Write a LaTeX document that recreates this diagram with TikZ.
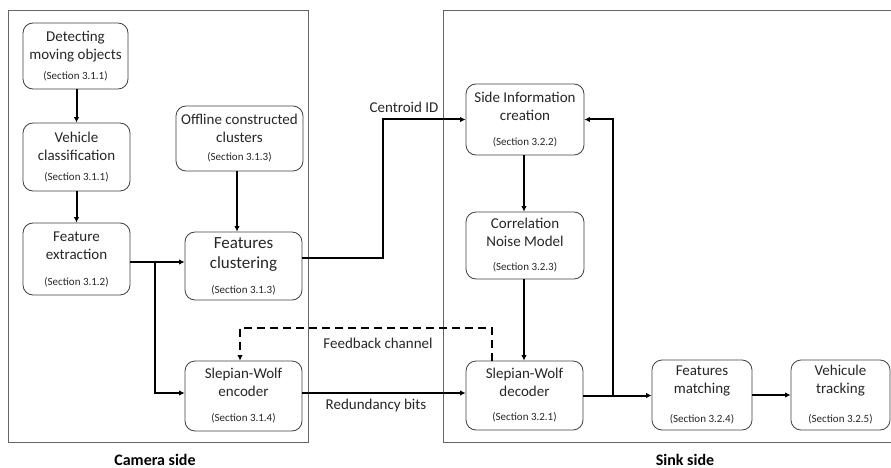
\documentclass[tikz,border=0pt]{standalone}
\usepackage{fontspec}
\setmainfont{Carlito}
\usetikzlibrary{arrows.meta,calc}
\newcommand{\secf}{\fontsize{11}{18}\selectfont}
\begin{document}
\begin{tikzpicture}[x=1pt,y=-1pt,
 box/.style={draw=black!75, line width=0.8pt, rounded corners=10pt, align=center, inner sep=0pt, text=black!85, font=\fontsize{15}{18}\selectfont},
 arr/.style={line width=2pt, -{Latex[length=5.5pt,width=5.5pt]}},
 lab/.style={text=black!85, font=\fontsize{15}{18}\selectfont},
 sidelab/.style={text=black, font=\fontsize{16}{19}\selectfont\bfseries},
 panel/.style={draw=black!60, line width=1pt}]
\useasboundingbox (0,0) rectangle (891,468);
% panels
\draw[panel] (8,11) rectangle (308,442);
\draw[panel] (893,11) -- (443,11) -- (443,442) -- (893,442);
% camera side boxes
\node[box, minimum width=105, minimum height=66] (det) at (75.5,56) {Detecting\\moving objects\\[2pt]\secf (Section 3.1.1)};
\node[box, minimum width=107, minimum height=68] (veh) at (76.5,157) {Vehicle\\classification\\[2pt]\secf (Section 3.1.1)};
\node[box, minimum width=107, minimum height=72] (fext) at (76.5,259) {Feature\\extraction\\[8pt]\secf (Section 3.1.2)};
\node[box, minimum width=127, minimum height=65] (off) at (239.5,138.5) {Offline constructed\\clusters\\[0pt]\secf (Section 3.1.3)};
\node[box, minimum width=117, minimum height=68, font=\fontsize{17}{20}\selectfont] (fclu) at (243.5,266) {Features\\clustering\\[5pt]\secf (Section 3.1.3)};
\node[box, minimum width=117, minimum height=70] (swe) at (243.5,396) {Slepian-Wolf\\encoder\\[7pt]\secf (Section 3.1.4)};
% sink side boxes
\node[box, minimum width=118, minimum height=71] (sinfo) at (525,119.5) {Side Information\\creation\\[7pt]\secf (Section 3.2.2)};
\node[box, minimum width=118, minimum height=67] (corr) at (525,245.5) {Correlation\\Noise Model\\[6pt]\secf (Section 3.2.3)};
\node[box, minimum width=117, minimum height=69] (swd) at (524.5,395.5) {Slepian-Wolf\\decoder\\[6pt]\secf (Section 3.2.1)};
\node[box, minimum width=100, minimum height=70] (fm) at (702,395) {Features\\matching\\[11pt]\secf (Section 3.2.4)};
\node[box, minimum width=99, minimum height=70] (vt) at (840.5,395) {Vehicule\\tracking\\[11pt]\secf (Section 3.2.5)};
% helper coordinates
\coordinate (b1) at (155,0);
\coordinate (b2) at (383,0);
\coordinate (b3) at (613,0);
% camera side arrows
\draw[arr] (det.south -| veh.north) -- (veh.north);
\draw[arr] (veh.south) -- (fext.north);
\draw[arr] (off.south -| 237,0) -- (fclu.north -| 237,0);
\draw[arr] ([yshift=-3pt]fext.east) -- ([yshift=-3pt]fext.east -| fclu.west);
\draw[arr] ([yshift=-3pt]fext.east -| b1) |- ([yshift=3pt]swe.west);
% centroid
\draw[arr] ([yshift=8pt]fclu.east) -| (b2 |- sinfo.west) -- (sinfo.west);
% sink chain
\draw[arr] ([xshift=-1pt]sinfo.south) -- ([xshift=-1pt]corr.north);
\draw[arr] ([xshift=-1pt]corr.south) -- ([xshift=-1pt]corr.south |- swd.north);
\draw[arr] ([yshift=3pt]swe.east) -- ([yshift=3pt]swe.east -| swd.west);
\draw[arr] (swd.east) -- (swd.east -| fm.west);
\draw[arr] (swd.east -| b3) |- (sinfo.east);
\draw[arr] (fm.east) -- (vt.west);
% feedback
\draw[line width=2pt, dash pattern=on 8pt off 5pt, -{Latex[length=5.5pt,width=5.5pt]}] ([xshift=-32.5pt]swd.north) -- ++(0,-33) -| ([xshift=-3.5pt]swe.north);
% labels
\node[lab] (lcid) at (404,107) {Centroid ID};
\node[lab] (lfb) at (378,343) {Feedback channel};
\node[lab] (lrb) at (376,405) {Redundancy bits};
\node[sidelab] (lcam) at (155,460) {Camera side};
\node[sidelab] (lsink) at (685,460) {Sink side};
\end{tikzpicture}
\end{document}
